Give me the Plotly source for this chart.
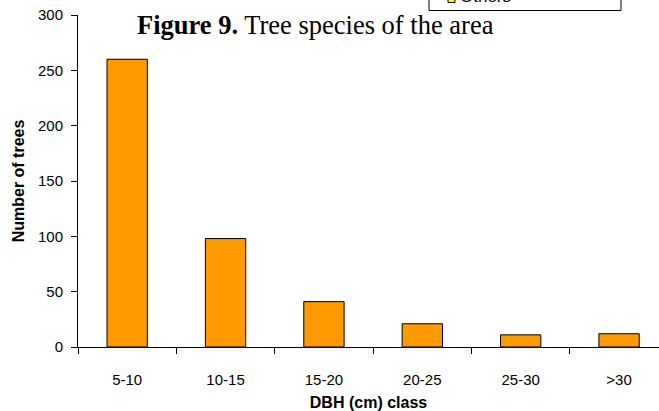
import plotly.graph_objects as go

categories = ["5-10", "10-15", "15-20", "20-25", "25-30", ">30"]
trees = [260, 98, 41, 21, 11, 12]
y_ticks = [0, 50, 100, 150, 200, 250, 300]

W, H = 659, 411
L, R, T, B = 78, 0, 15, 64
PW, PH = W - L - R, H - T - B

def px(x):
    return (x - L) / PW

def py(y):
    return 1 - (y - T) / PH

fig = go.Figure()
fig.add_trace(go.Bar(
    x=categories, y=trees, width=0.41,
    marker=dict(color="#FF9900", line=dict(color="#000000", width=1)),
    showlegend=False,
))

font = "Liberation Sans, Arial, sans-serif"
fig.update_layout(
    width=W, height=H,
    margin=dict(l=L, r=R, t=T, b=B, pad=0),
    plot_bgcolor="white", paper_bgcolor="white",
    font=dict(family=font, color="#000000", size=15),
    xaxis=dict(
        type="category", range=[-0.5, 5.406],
        showline=True, linecolor="#000000", linewidth=1,
        ticks="outside", tickson="boundaries", ticklen=6, tickcolor="#000000",
        showgrid=False, zeroline=False,
        tickfont=dict(size=15), ticklabelstandoff=19,
        title=dict(text="<b>DBH (cm) class</b>", font=dict(size=16), standoff=10),
    ),
    yaxis=dict(
        range=[0, 300], tickvals=y_ticks,
        showline=True, linecolor="#000000", linewidth=1,
        ticks="outside", ticklen=6, tickcolor="#000000",
        showgrid=False, zeroline=False,
        tickfont=dict(size=15), ticklabelstandoff=5,
        title=dict(text="<b>Number of trees</b>", font=dict(size=16), standoff=9),
    ),
    bargap=0.59,
)

fig.add_annotation(
    text="<b>Figure 9.</b> Tree species of the area",
    xref="paper", yref="paper", x=px(315), y=py(25),
    xanchor="center", yanchor="middle", showarrow=False,
    font=dict(family="Liberation Serif, Times New Roman, serif", size=26.5, color="#000000"),
)

# cropped legend box at top
fig.add_shape(type="rect", xref="paper", yref="paper",
              x0=px(429), x1=px(621), y0=py(10.5), y1=py(-10),
              line=dict(color="#000000", width=1), fillcolor="white")
fig.add_shape(type="rect", xref="paper", yref="paper",
              x0=px(448), x1=px(455), y0=py(2.5), y1=py(-6),
              line=dict(color="#000000", width=1), fillcolor="#FFFF00")
fig.add_annotation(
    text="Others", xref="paper", yref="paper", x=px(458), y=py(8),
    xanchor="left", yanchor="bottom", showarrow=False,
    font=dict(family=font, size=17, color="#000000"),
)

fig.write_html("out.html")
